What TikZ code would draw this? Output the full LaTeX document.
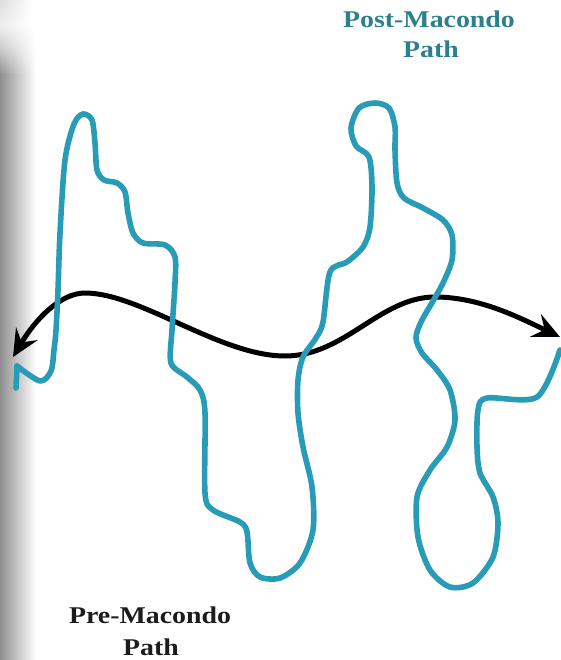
\documentclass[tikz,border=0pt]{standalone}
\usepackage{fontspec}
\setmainfont{Liberation Serif}
\newfontfamily\lblfont[FakeStretch=1.16]{Liberation Serif}
\usetikzlibrary{arrows.meta,fadings}
\definecolor{pathblue}{RGB}{40,156,182}
\definecolor{posttext}{RGB}{44,128,142}
\definecolor{pretext}{RGB}{28,28,28}
\tikzset{
  bluepath/.style={draw=pathblue, line width=5.6pt, line cap=round, line join=round},
  wavearrow/.style={draw=black, line width=5pt, line cap=round},
  bighead/.tip={Stealth[length=27pt,width=25pt,inset=10pt]},
  lbl/.style={anchor=base, inner sep=0pt, font=\lblfont\bfseries\fontsize{24}{30}\selectfont}
}
\begin{document}
\begin{tikzpicture}[x=1pt,y=-1pt]
\useasboundingbox (0,0) rectangle (560,660);
% left shadow band
\shade[left color=black!14, right color=white, path fading=south] (0,0) rectangle (32,50);
\shade[left color=black!44, right color=white, path fading=north] (0,25) rectangle (36,75);
\shade[left color=black!44, right color=white] (0,74) rectangle (36,660);
% wavy double arrow
\coordinate (aL) at (13,357);
\coordinate (aR) at (560,337);
\draw[wavearrow, arrows={bighead-bighead}] (aL) .. controls (35,320) and (60,293) .. (85,293)
   .. controls (140,293) and (220,356) .. (285,356)
   .. controls (345,356) and (380,297) .. (435,297)
   .. controls (480,297) and (520,318) .. (aR);
% tangled blue path
\coordinate (bS) at (17,366);
\coordinate (bE) at (560,350);
\draw[bluepath] (16,388) -- (bS);
\draw[bluepath] plot[smooth, tension=0.5] coordinates {(bS) (40,381) (51,371) (54,350) (56,330) (58,290) (60,233) (65,160) (74,124) (83,114) (92,120) (95,143) (97,170) (104,180) (117,183) (125,192) (128,213) (133,233) (143,243) (165,245) (175,257) (175,283) (172,330) (171,363) (187,377) (200,390) (205,413) (205,493) (213,510) (240,522) (247,532) (250,563) (260,577) (280,578) (300,563) (313,530) (312,487) (303,447) (298,413) (298,380) (303,357) (316,338) (323,322) (330,272) (347,262) (363,247) (370,227) (372,187) (369,157) (356,146) (351,128) (359,108) (375,103) (389,108) (395,127) (395,150) (397,183) (404,198) (423,208) (443,220) (452,235) (452,260) (443,283) (433,301) (421,322) (416,338) (422,353) (437,370) (450,390) (455,420) (447,447) (430,470) (417,497) (418,537) (430,570) (450,587) (473,583) (493,557) (498,523) (493,497) (480,473) (477,447) (478,410) (487,398) (537,397) (bE)};
% labels
\node[lbl, text=posttext] (post1) at (429,28) {Post-Macondo};
\node[lbl, text=posttext] (post2) at (431,58) {Path};
\node[lbl, text=pretext] (pre1) at (150,623) {Pre-Macondo};
\node[lbl, text=pretext] (pre2) at (151,655) {Path};
\end{tikzpicture}
\end{document}
